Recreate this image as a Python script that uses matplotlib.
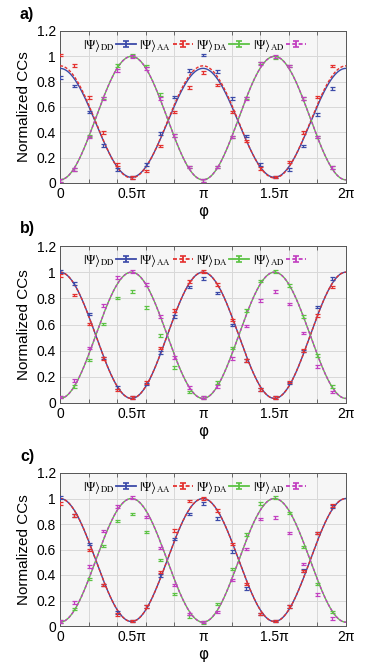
import numpy as np
import matplotlib
matplotlib.use("Agg")
import matplotlib.pyplot as plt
from matplotlib.ticker import FixedLocator
from matplotlib.legend_handler import HandlerErrorbar
from matplotlib.container import ErrorbarContainer

plt.rcParams['font.family'] = ['Liberation Sans', 'DejaVu Sans']
plt.rcParams['mathtext.fontset'] = 'stix'

# phase settings (in units of pi)
phase_pi = np.arange(20) * 0.1
panel_labels = ['a)', 'b)', 'c)']
series_names = ['DD', 'AA', 'DA', 'AD']
colors = {'DD': '#3b4aa8', 'AA': '#e4312f', 'DA': '#5cc244', 'AD': '#c23fc0'}
linestyles = {'DD': '-', 'AA': (0, (2.2, 1.3)), 'DA': '-', 'AD': (0, (2.2, 1.3))}
xtick_vals = [0, 0.5, 1.0, 1.5, 2.0]
xtick_labels = ['0', '0.5π', 'π', '1.5π', '2π']
ytick_vals = [0, 0.2, 0.4, 0.6, 0.8, 1.0, 1.2]
ytick_labels = ['0', '0.2', '0.4', '0.6', '0.8', '1', '1.2']
err = 0.01

# measured normalized coincidence counts
a_DD = [0.833, 0.765, 0.56, 0.295, 0.105, 0.045, 0.148, 0.39, 0.68, 0.89,
        1.01, 0.88, 0.667, 0.37, 0.145, 0.047, 0.105, 0.293, 0.54, 0.746]
a_AA = [1.01, 0.928, 0.675, 0.398, 0.145, 0.042, 0.095, 0.293, 0.562, 0.754,
        0.873, 0.773, 0.562, 0.332, 0.113, 0.047, 0.166, 0.40, 0.68, 0.923]
a_DA = [0.021, 0.105, 0.37, 0.672, 0.928, 1.005, 0.923, 0.699, 0.377, 0.127,
        0.021, 0.127, 0.364, 0.672, 0.949, 0.99, 0.923, 0.667, 0.364, 0.121]
a_AD = [0.02, 0.105, 0.364, 0.665, 0.89, 1.0, 0.905, 0.665, 0.377, 0.127,
        0.02, 0.127, 0.364, 0.665, 0.944, 1.0, 0.923, 0.665, 0.364, 0.121]

b_DD = [1.003, 0.914, 0.68, 0.345, 0.117, 0.04, 0.145, 0.388, 0.661, 0.886,
        0.952, 0.84, 0.595, 0.324, 0.105, 0.04, 0.153, 0.396, 0.733, 0.952]
b_AA = [0.973, 0.825, 0.605, 0.34, 0.10, 0.04, 0.156, 0.42, 0.707, 0.927,
        1.003, 0.906, 0.633, 0.327, 0.105, 0.04, 0.161, 0.403, 0.671, 0.886]
b_DA = [0.045, 0.125, 0.329, 0.605, 0.804, 0.85, 0.728, 0.518, 0.27, 0.084,
        0.04, 0.156, 0.42, 0.707, 0.932, 1.003, 0.896, 0.659, 0.365, 0.125]
b_AD = [0.045, 0.171, 0.42, 0.743, 0.96, 1.003, 0.906, 0.659, 0.35, 0.117,
        0.04, 0.125, 0.34, 0.59, 0.784, 0.85, 0.756, 0.534, 0.278, 0.084]

c_DD = [1.006, 0.867, 0.644, 0.32, 0.105, 0.04, 0.155, 0.396, 0.684, 0.88,
        0.959, 0.841, 0.584, 0.293, 0.094, 0.04, 0.155, 0.435, 0.728, 0.938]
c_AA = [0.959, 0.867, 0.597, 0.322, 0.089, 0.04, 0.155, 0.422, 0.749, 0.98,
        1.0, 0.906, 0.644, 0.33, 0.094, 0.04, 0.155, 0.43, 0.728, 0.943]
c_DA = [0.037, 0.134, 0.367, 0.629, 0.823, 0.88, 0.739, 0.519, 0.252, 0.073,
        0.026, 0.173, 0.448, 0.718, 0.959, 1.006, 0.886, 0.618, 0.33, 0.11]
c_AD = [0.037, 0.183, 0.466, 0.744, 0.938, 1.006, 0.854, 0.613, 0.32, 0.094,
        0.031, 0.11, 0.362, 0.603, 0.838, 0.849, 0.728, 0.487, 0.246, 0.06]

# fit parameters: (minimum, maximum) of cos^2 (DD, AA) / sin^2 (DA, AD) fits
a_fit = {'DD': (0.045, 0.905), 'AA': (0.04, 0.925), 'DA': (0.025, 1.0), 'AD': (0.025, 1.0)}
b_fit = {'DD': (0.035, 1.0), 'AA': (0.035, 1.0), 'DA': (0.035, 1.0), 'AD': (0.035, 1.0)}
c_fit = {'DD': (0.035, 1.0), 'AA': (0.035, 1.0), 'DA': (0.03, 1.0), 'AD': (0.03, 1.0)}

panels = [
    ({'DD': a_DD, 'AA': a_AA, 'DA': a_DA, 'AD': a_AD}, a_fit),
    ({'DD': b_DD, 'AA': b_AA, 'DA': b_DA, 'AD': b_AD}, b_fit),
    ({'DD': c_DD, 'AA': c_AA, 'DA': c_DA, 'AD': c_AD}, c_fit),
]

W, H = 380, 668
fig = plt.figure(figsize=(W / 100, H / 100), dpi=100)
boxes = [(31, 183), (246, 403), (473, 626)]
left, right = 60, 346

phi_fine = np.linspace(0, 2, 400)
for i, ((data, fit), (top, bot)) in enumerate(zip(panels, boxes)):
    ax = fig.add_axes([left / W, (H - bot) / H, (right - left) / W, (bot - top) / H])
    ax.set_facecolor('#f6f6f6')
    for name in series_names:
        lo, hi = fit[name]
        if name in ('DD', 'AA'):
            model = lo + (hi - lo) * np.cos(np.pi * phi_fine) ** 2
        else:
            model = lo + (hi - lo) * np.sin(np.pi * phi_fine) ** 2
        ax.plot(phi_fine, model, color=colors[name], ls=linestyles[name], lw=1.0, zorder=3)
    for name in series_names:
        ax.errorbar(phase_pi, data[name], yerr=err, fmt='none', ecolor=colors[name],
                    elinewidth=0.9, capsize=1.8, capthick=0.9, zorder=4)
    # legend handles
    handles = []
    for name in series_names:
        h = ax.errorbar([np.nan], [np.nan], yerr=[0.01], fmt='', color=colors[name],
                        ls=linestyles[name], lw=1.3, elinewidth=1.3, capsize=2, capthick=1.2,
                        label=r'$|\Psi\rangle_{\mathrm{%s}}$' % name)
        handles.append(h)
    ax.legend(handles=handles, loc='upper center', bbox_to_anchor=(0.47, 1.02), ncol=4,
              markerfirst=False, frameon=False, fontsize=9, handlelength=1.6,
              handletextpad=0.15, columnspacing=0.25, borderpad=0.2,
              handler_map={ErrorbarContainer: HandlerErrorbar(xerr_size=0.5, yerr_size=0.25)})
    ax.set_xlim(0, 2)
    ax.set_ylim(0, 1.2)
    ax.xaxis.set_major_locator(FixedLocator(xtick_vals))
    ax.set_xticklabels(xtick_labels, fontsize=10)
    ax.xaxis.set_minor_locator(FixedLocator(np.arange(0.2, 2.0, 0.2)))
    ax.set_yticks(ytick_vals)
    ax.set_yticklabels(ytick_labels, fontsize=10)
    ax.grid(True, which='minor', axis='x', color='#d8d8d8', lw=0.7)
    ax.grid(True, which='major', axis='y', color='#d8d8d8', lw=0.7)
    ax.set_axisbelow(True)
    ax.tick_params(which='both', direction='in', top=True, right=True, length=3, width=0.6,
                   color='#555555', pad=3)
    ax.tick_params(which='major', length=0)
    for s in ax.spines.values():
        s.set_color('#555555')
        s.set_linewidth(0.7)
    ax.set_ylabel('Normalized CCs', fontsize=11, labelpad=4)
    ax.set_xlabel('φ', fontsize=11, labelpad=2, family=['DejaVu Sans'])
    fig.text(20 / W, 1 - (top - 17) / H, panel_labels[i], fontsize=11.5, fontweight='bold',
             va='center', ha='left')

fig.savefig('out.png', dpi=100)
